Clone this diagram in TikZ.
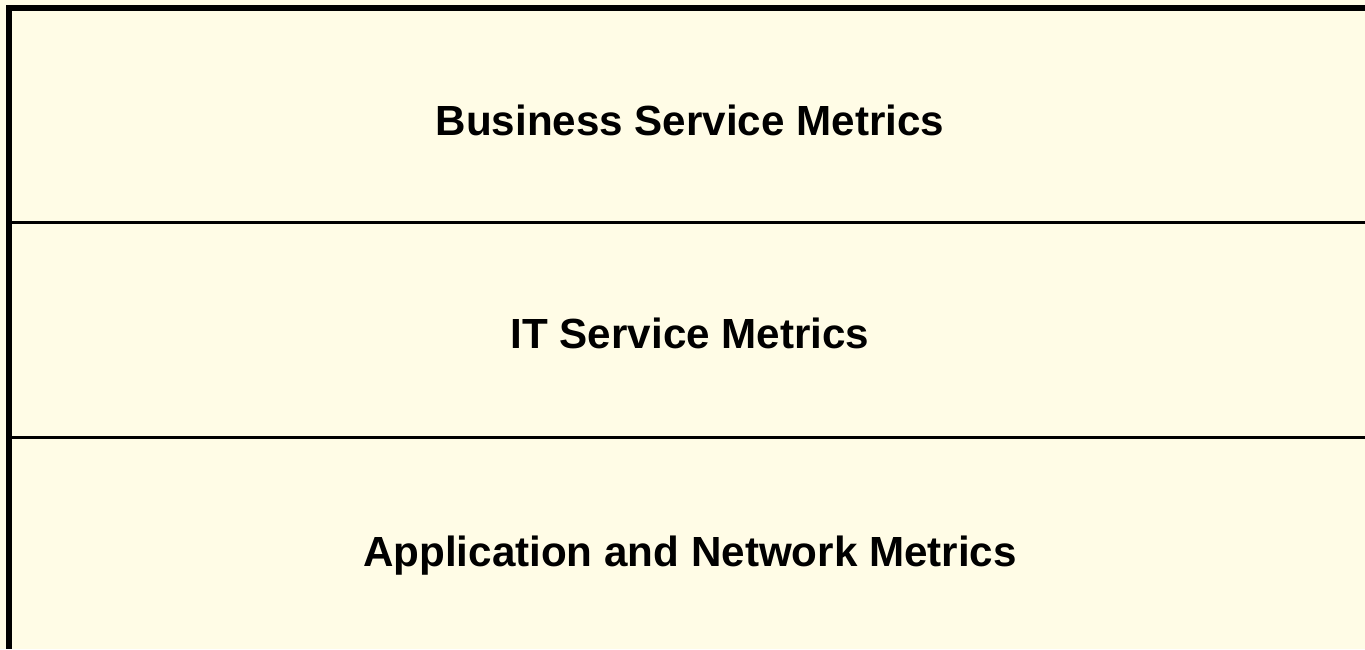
\documentclass[tikz,border=0pt]{standalone}
\usepackage{fontspec}
\setmainfont{Liberation Sans}
\usetikzlibrary{positioning}
\definecolor{cellfill}{HTML}{FFFCE6}

\begin{document}
\begin{tikzpicture}[x=0.02cm,y=-0.02cm,
  layer text/.style={font=\fontsize{24}{28}\selectfont\bfseries,anchor=base,inner sep=0pt},
  frame line/.style={line width=6*0.02cm},
  split line/.style={line width=3*0.02cm}]

  % background
  \fill[cellfill] (0,0) rectangle (1365,649);
  \useasboundingbox (0,0) rectangle (1365,649);

  % frame
  \coordinate (tl) at (9,8);
  \coordinate (tr) at (1365,8);
  \coordinate (bl) at (9,649);
  \draw[frame line] (tr) -- (tl) -- (bl);

  % dividers
  \coordinate (s1l) at (12,222.5);
  \coordinate (s1r) at (1365,222.5);
  \coordinate (s2l) at (12,437.5);
  \coordinate (s2r) at (1365,437.5);
  \draw[split line] (s1l) -- (s1r);
  \draw[split line] (s2l) -- (s2r);

  \node[layer text] (business) at (690,135) {Business Service Metrics};
  \node[layer text] (itservice) at (690,348) {IT Service Metrics};
  \node[layer text] (appnet) at (690,566) {Application and Network Metrics};
\end{tikzpicture}
\end{document}
